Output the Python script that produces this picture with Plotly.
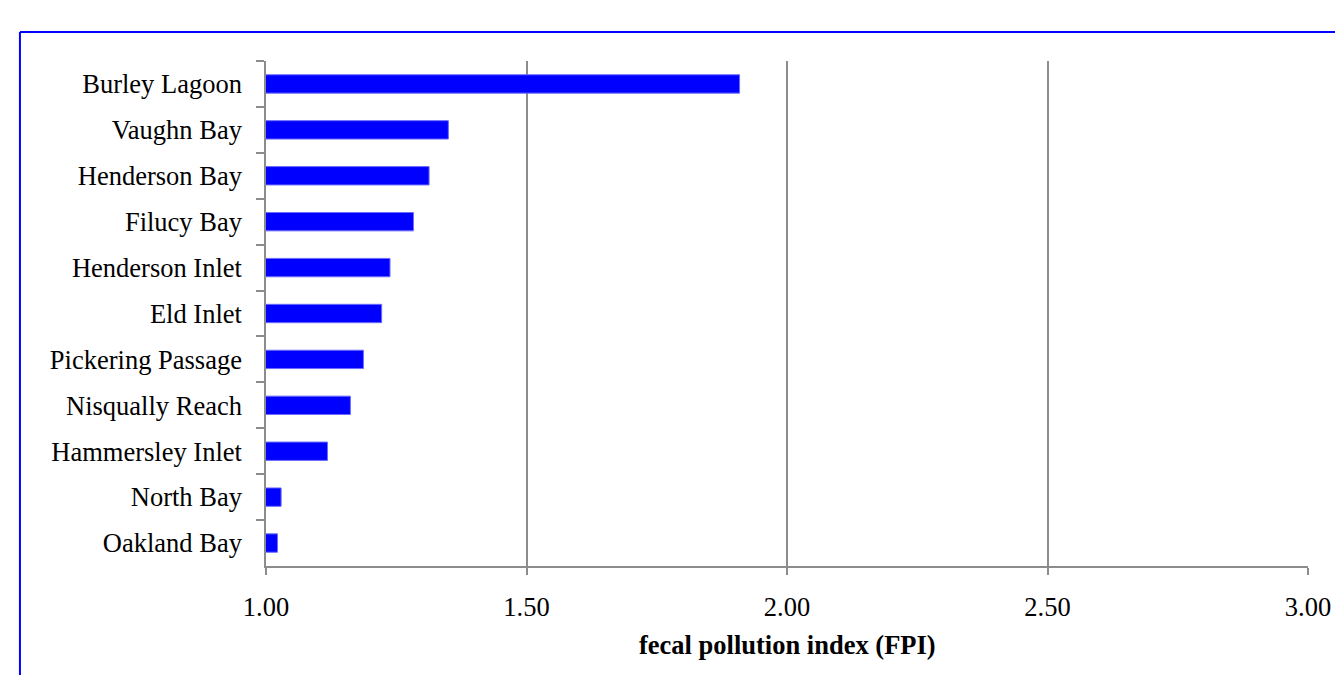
import plotly.graph_objects as go

categories = ["Burley Lagoon", "Vaughn Bay", "Henderson Bay", "Filucy Bay", "Henderson Inlet",
              "Eld Inlet", "Pickering Passage", "Nisqually Reach", "Hammersley Inlet",
              "North Bay", "Oakland Bay"]
fpi = [1.909, 1.350, 1.313, 1.283, 1.238, 1.222, 1.187, 1.162, 1.118, 1.029, 1.022]
x_ticks = [1.0, 1.5, 2.0, 2.5, 3.0]
x_tick_labels = ["1.00", "1.50", "2.00", "2.50", "3.00"]
x_title = "<b>fecal pollution index (FPI)</b>"

FONT = "Liberation Serif, Times New Roman, serif"
GRAY = "#8c8c8c"
FS = 26.5

fig = go.Figure(go.Bar(
    y=categories, x=fpi, orientation="h", base=0,
    marker=dict(color="#0000ff", line=dict(color="#6b6bff", width=1)),
))

W, H = 1335, 667
ml, mt = 258, 53
mr = 31
mb = H - (566 - 8)
ph = H - mt - mb
pw = W - ml - mr

fx0 = (11 - ml) / pw
fy1 = (mt + ph - 24) / ph
ty = (mt + ph - (645 - 8)) / ph

fig.update_layout(
    width=W, height=H, autosize=False,
    margin=dict(l=ml, r=mr, t=mt, b=mb, pad=0),
    paper_bgcolor="white", plot_bgcolor="white",
    bargap=0.6, showlegend=False,
    font=dict(family=FONT, size=FS, color="black"),
    xaxis=dict(
        range=[1, 3], tickvals=x_ticks, ticktext=x_tick_labels,
        showgrid=True, gridcolor=GRAY, gridwidth=1.5, zeroline=False,
        showline=True, linecolor=GRAY, linewidth=1.5,
        ticks="outside", ticklen=7, tickcolor=GRAY, tickwidth=1.5,
        ticklabelstandoff=9,
        tickfont=dict(family=FONT, size=FS),
    ),
    yaxis=dict(
        autorange="reversed", categoryorder="array", categoryarray=categories,
        showgrid=False, zeroline=False,
        showline=True, linecolor=GRAY, linewidth=1.5,
        ticks="outside", ticklen=8, tickcolor=GRAY, tickwidth=1.5,
        tickson="boundaries", ticklabelstandoff=17,
        tickfont=dict(family=FONT, size=FS),
    ),
    annotations=[dict(
        text=x_title, xref="paper", yref="paper", x=0.5, y=ty,
        xanchor="center", yanchor="middle", showarrow=False,
        font=dict(family=FONT, size=FS, color="black"),
    )],
    shapes=[
        dict(type="line", xref="paper", yref="paper",
             x0=fx0, x1=1.1, y0=fy1, y1=fy1,
             line=dict(color="#0000ff", width=2), layer="below"),
        dict(type="line", xref="paper", yref="paper",
             x0=fx0, x1=fx0, y0=-0.3, y1=fy1,
             line=dict(color="#0000ff", width=2), layer="below"),
    ],
)

fig.write_html("out.html")
